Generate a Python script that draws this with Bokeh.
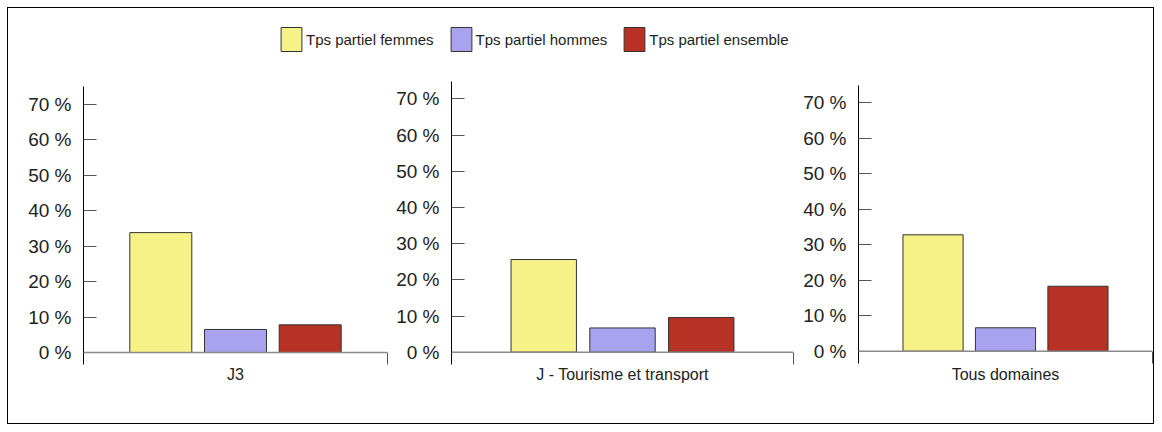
from bokeh.plotting import figure
from bokeh.models import (FactorRange, Range1d, LinearAxis, CategoricalAxis, FixedTicker,
                          PrintfTickFormatter, Span, Legend, LegendItem, ColumnDataSource)
from bokeh.layouts import column, row
from bokeh.embed import file_html
from bokeh.resources import INLINE

series = ["Tps partiel femmes", "Tps partiel hommes", "Tps partiel ensemble"]
panels = ["J3", "J - Tourisme et transport", "Tous domaines"]
femmes = [33.8, 25.6, 32.8]
hommes = [6.5, 6.7, 6.6]
ensemble = [7.8, 9.6, 18.3]
colors = ["#F7F287", "#A9A2EE", "#B83125"]
ticks = [0, 10, 20, 30, 40, 50, 60, 70]

FONT = "Liberation Sans"
YMIN = -3.4

# geometry per panel: (min_border_left, frame_width, min_border_right, y_lo, y_hi, axis_top, pad)
geo = [
    (75, 304, 6, -3.38, 76.4, 75.0, 0.535),
    (57, 342, 7, -3.40, 74.8, 74.8, 0.671),
    (57, 294, 1, -3.75, 76.0, 74.9, 0.529),
]

figs = []
for i, name in enumerate(panels):
    mbl, fw, mbr, ylo, yhi, atop, pad = geo[i]
    vals = [femmes[i], hommes[i], ensemble[i]]
    src = ColumnDataSource(dict(x=series, top=vals, color=colors))
    p = figure(x_range=FactorRange(*series, range_padding=pad, range_padding_units="absolute"),
               y_range=Range1d(ylo, yhi),
               frame_width=fw, frame_height=283,
               min_border_left=mbl, min_border_right=mbr, min_border_top=11,
               min_border_bottom=59,
               output_backend="svg", toolbar_location=None,
               x_axis_location=None, y_axis_location=None)
    p.outline_line_color = None
    p.grid.grid_line_color = None
    p.background_fill_color = None
    p.border_fill_color = None
    p.vbar(x="x", top="top", bottom=0, width=0.83, source=src,
           fill_color="color", line_color="#333333", line_width=1)
    p.add_layout(Span(location=0, dimension="width", line_color="#8a8a8a", line_width=1.5))
    ya = LinearAxis(ticker=FixedTicker(ticks=ticks),
                    formatter=PrintfTickFormatter(format="%d %%"),
                    bounds=(YMIN, atop))
    ya.major_tick_in = 13
    ya.major_tick_out = 0
    ya.minor_tick_line_color = None
    ya.major_tick_line_color = "#555555"
    ya.axis_line_color = "#000000"
    ya.major_label_standoff = 12
    ya.major_label_text_font = FONT
    ya.major_label_text_font_size = "19px"
    ya.major_label_text_color = "#222222"
    p.add_layout(ya, "left")
    ra = LinearAxis(ticker=FixedTicker(ticks=[]), bounds=(YMIN, 0))
    ra.major_tick_line_color = None
    ra.minor_tick_line_color = None
    ra.axis_line_color = "#555555"
    p.add_layout(ra, "right")
    xa = CategoricalAxis(ticker=FixedTicker(ticks=[]))
    xa.axis_line_color = None
    xa.major_tick_line_color = None
    xa.minor_tick_line_color = None
    xa.major_label_standoff = 0
    xa.axis_label = name
    xa.axis_label_standoff = 1
    xa.axis_label_text_font = FONT
    xa.axis_label_text_font_size = "16px"
    xa.axis_label_text_font_style = "normal"
    xa.axis_label_text_color = "#222222"
    p.add_layout(xa, "below")
    figs.append(p)

# legend figure
lf = figure(x_range=FactorRange(*series), y_range=Range1d(1000, 1001),
            width=1145, height=62, min_border=0,
            output_backend="svg", toolbar_location=None,
            x_axis_location=None, y_axis_location=None)
lf.grid.grid_line_color = None
lf.outline_line_color = None
lsrc = ColumnDataSource(dict(x=series, top=femmes, color=colors))
r = lf.vbar(x="x", top="top", bottom=0, width=0.8, source=lsrc,
            fill_color="color", line_color="#333333")
items = [LegendItem(label=s, renderers=[r], index=k) for k, s in enumerate(series)]
leg = Legend(items=items, orientation="horizontal", location=(270, 16),
             glyph_width=26, glyph_height=30, label_standoff=2, spacing=14,
             padding=0, margin=0, border_line_color=None, background_fill_alpha=0,
             label_text_font=FONT, label_text_font_size="15px", label_text_color="#222222")
lf.add_layout(leg, "center")

layout = column(lf, row(*figs, spacing=0), spacing=0, margin=(7, 0, 0, 7),
                styles={"border": "1px solid #000000"})

open("out.html", "w").write(file_html(layout, INLINE))
